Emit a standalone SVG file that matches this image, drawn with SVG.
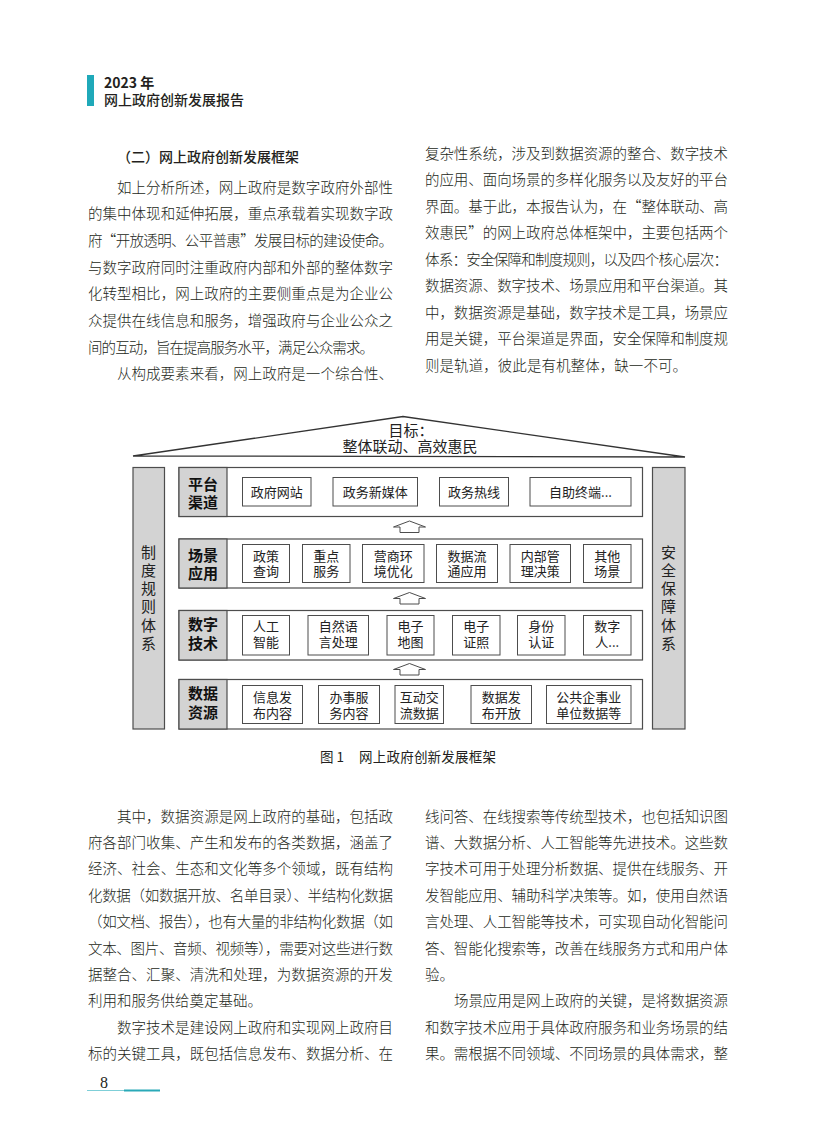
<svg xmlns="http://www.w3.org/2000/svg" width="816" height="1145" viewBox="0 0 816 1145">
<style>
.body{font-family:"Noto Sans CJK SC","Noto Sans CJK JP",sans-serif;font-size:14.5px;fill:#231f20;font-weight:300}
.hd{font-family:"Noto Sans CJK SC",sans-serif;fill:#231f20}
.frame{fill:#fff;stroke:#4d4d4d;stroke-width:1.2}
.cell{fill:#d3d3d3;stroke:#4d4d4d;stroke-width:1.2}
.box{fill:#fff;stroke:#4d4d4d;stroke-width:1}
.bt{font-family:"Noto Sans CJK SC",sans-serif;font-size:13px;fill:#222;text-anchor:middle}
.lt{font-family:"Noto Sans CJK SC",sans-serif;font-size:15px;font-weight:bold;fill:#111;text-anchor:middle}
.pt{font-family:"Noto Sans CJK SC",sans-serif;font-size:15px;fill:#222;text-anchor:middle}
.arrow{fill:#fff;stroke:#4d4d4d;stroke-width:1}
</style>
<rect width="816" height="1145" fill="#fff"/>

<g id="header">
<rect x="87" y="75" width="7" height="31" fill="#1fa9b9"/>
<text class="hd" x="104" y="88" font-size="14" font-weight="bold" font-family="Liberation Sans, Noto Sans CJK SC, sans-serif">2023 年</text>
<text class="hd" x="104" y="105" font-size="14" font-weight="500">网上政府创新发展报告</text>
</g>

<g id="text-top-left">
<text class="hd" x="117" y="162.2" font-size="14" font-weight="500">（二）网上政府创新发展框架</text>
<text class="body" x="117" y="192.5" textLength="276" lengthAdjust="spacing">如上分析所述，网上政府是数字政府外部性</text>
<text class="body" x="88" y="219.2" textLength="305" lengthAdjust="spacing">的集中体现和延伸拓展，重点承载着实现数字政</text>
<text class="body" x="88" y="245.8" textLength="305" lengthAdjust="spacing">府“开放透明、公平普惠”发展目标的建设使命。</text>
<text class="body" x="88" y="272.5" textLength="305" lengthAdjust="spacing">与数字政府同时注重政府内部和外部的整体数字</text>
<text class="body" x="88" y="299.1" textLength="305" lengthAdjust="spacing">化转型相比，网上政府的主要侧重点是为企业公</text>
<text class="body" x="88" y="325.8" textLength="305" lengthAdjust="spacing">众提供在线信息和服务，增强政府与企业公众之</text>
<text class="body" x="88" y="352.5" textLength="286" lengthAdjust="spacing">间的互动，旨在提高服务水平，满足公众需求。</text>
<text class="body" x="117" y="379.1" textLength="276" lengthAdjust="spacing">从构成要素来看，网上政府是一个综合性、</text>
</g>

<g id="text-top-right">
<text class="body" x="425" y="158.5" textLength="303" lengthAdjust="spacing">复杂性系统，涉及到数据资源的整合、数字技术</text>
<text class="body" x="425" y="185" textLength="303" lengthAdjust="spacing">的应用、面向场景的多样化服务以及友好的平台</text>
<text class="body" x="425" y="211.5" textLength="303" lengthAdjust="spacing">界面。基于此，本报告认为，在“整体联动、高</text>
<text class="body" x="425" y="238" textLength="303" lengthAdjust="spacing">效惠民”的网上政府总体框架中，主要包括两个</text>
<text class="body" x="425" y="264.5" textLength="303" lengthAdjust="spacing">体系：安全保障和制度规则，以及四个核心层次：</text>
<text class="body" x="425" y="291" textLength="303" lengthAdjust="spacing">数据资源、数字技术、场景应用和平台渠道。其</text>
<text class="body" x="425" y="317.5" textLength="303" lengthAdjust="spacing">中，数据资源是基础，数字技术是工具，场景应</text>
<text class="body" x="425" y="344" textLength="303" lengthAdjust="spacing">用是关键，平台渠道是界面，安全保障和制度规</text>
<text class="body" x="425" y="370.5" textLength="262" lengthAdjust="spacing">则是轨道，彼此是有机整体，缺一不可。</text>
</g>

<g id="roof">
<polygon points="133,456 403,416.5 685,457" fill="#fff" stroke="#333" stroke-width="1.3"/>
<text class="pt"><tspan x="411" y="435.5">目标：</tspan><tspan x="410" y="452">整体联动、高效惠民</tspan></text>
</g>

<g id="pillar-left">
<rect class="cell" x="133" y="467.5" width="31.5" height="261.5"/>
<text class="pt"><tspan x="148.5" y="557.5">制</tspan><tspan x="148.5" y="575.8">度</tspan><tspan x="148.5" y="594.1">规</tspan><tspan x="148.5" y="612.4">则</tspan><tspan x="148.5" y="630.7">体</tspan><tspan x="148.5" y="649">系</tspan></text>
</g>

<g id="pillar-right">
<rect class="cell" x="652.5" y="467.5" width="32.5" height="261.5"/>
<text class="pt"><tspan x="668.5" y="557.5">安</tspan><tspan x="668.5" y="575.8">全</tspan><tspan x="668.5" y="594.1">保</tspan><tspan x="668.5" y="612.4">障</tspan><tspan x="668.5" y="630.7">体</tspan><tspan x="668.5" y="649">系</tspan></text>
</g>

<g id="layer-platform">
<rect class="frame" x="179" y="467.5" width="463.5" height="49"/>
<rect class="cell" x="179" y="467.5" width="48" height="49"/>
<text class="lt"><tspan x="203" y="489.5">平台</tspan><tspan x="203" y="507.5">渠道</tspan></text>
<rect class="box" x="242.5" y="477.5" width="68.5" height="28.5"/>
<text class="bt" x="276.8" y="496.7">政府网站</text>
<rect class="box" x="333" y="477.5" width="84.5" height="28.5"/>
<text class="bt" x="375.2" y="496.7">政务新媒体</text>
<rect class="box" x="439.5" y="477.5" width="69" height="28.5"/>
<text class="bt" x="474" y="496.7">政务热线</text>
<rect class="box" x="530" y="477.5" width="101" height="28.5"/>
<text class="bt" x="580.5" y="496.7">自助终端...</text>
</g>

<g id="layer-scenario">
<rect class="frame" x="179" y="539" width="463.5" height="49"/>
<rect class="cell" x="179" y="539" width="48" height="49"/>
<text class="lt"><tspan x="203" y="560.5">场景</tspan><tspan x="203" y="578.5">应用</tspan></text>
<rect class="box" x="242.5" y="544.5" width="47" height="38"/>
<text class="bt"><tspan x="266" y="561">政策</tspan><tspan x="266" y="576">查询</tspan></text>
<rect class="box" x="302.5" y="544.5" width="47.5" height="38"/>
<text class="bt"><tspan x="326.2" y="561">重点</tspan><tspan x="326.2" y="576">服务</tspan></text>
<rect class="box" x="362.5" y="544.5" width="61.5" height="38"/>
<text class="bt"><tspan x="393.2" y="561">营商环</tspan><tspan x="393.2" y="576">境优化</tspan></text>
<rect class="box" x="436.5" y="544.5" width="61" height="38"/>
<text class="bt"><tspan x="467" y="561">数据流</tspan><tspan x="467" y="576">通应用</tspan></text>
<rect class="box" x="510" y="544.5" width="60.5" height="38"/>
<text class="bt"><tspan x="540.2" y="561">内部管</tspan><tspan x="540.2" y="576">理决策</tspan></text>
<rect class="box" x="583.5" y="544.5" width="47.5" height="38"/>
<text class="bt"><tspan x="607.2" y="561">其他</tspan><tspan x="607.2" y="576">场景</tspan></text>
</g>

<g id="layer-tech">
<rect class="frame" x="179" y="610.5" width="463.5" height="49.5"/>
<rect class="cell" x="179" y="610.5" width="48" height="49.5"/>
<text class="lt"><tspan x="203" y="629.5">数字</tspan><tspan x="203" y="648.5">技术</tspan></text>
<rect class="box" x="242.5" y="615.5" width="47" height="39.5"/>
<text class="bt"><tspan x="266" y="631">人工</tspan><tspan x="266" y="646.5">智能</tspan></text>
<rect class="box" x="308" y="615.5" width="60.5" height="39.5"/>
<text class="bt"><tspan x="338.2" y="631">自然语</tspan><tspan x="338.2" y="646.5">言处理</tspan></text>
<rect class="box" x="387" y="615.5" width="47" height="39.5"/>
<text class="bt"><tspan x="410.5" y="631">电子</tspan><tspan x="410.5" y="646.5">地图</tspan></text>
<rect class="box" x="452.5" y="615.5" width="47.5" height="39.5"/>
<text class="bt"><tspan x="476.2" y="631">电子</tspan><tspan x="476.2" y="646.5">证照</tspan></text>
<rect class="box" x="517.5" y="615.5" width="47.5" height="39.5"/>
<text class="bt"><tspan x="541.2" y="631">身份</tspan><tspan x="541.2" y="646.5">认证</tspan></text>
<rect class="box" x="583.5" y="615.5" width="47.5" height="39.5"/>
<text class="bt"><tspan x="607.2" y="631">数字</tspan><tspan x="607.2" y="646.5">人...</tspan></text>
</g>

<g id="layer-data">
<rect class="frame" x="179" y="679.5" width="463.5" height="49.5"/>
<rect class="cell" x="179" y="679.5" width="48" height="49.5"/>
<text class="lt"><tspan x="203" y="698.5">数据</tspan><tspan x="203" y="717.5">资源</tspan></text>
<rect class="box" x="242.5" y="685.5" width="60" height="38"/>
<text class="bt"><tspan x="272.5" y="702">信息发</tspan><tspan x="272.5" y="717.5">布内容</tspan></text>
<rect class="box" x="318.5" y="685.5" width="61" height="38"/>
<text class="bt"><tspan x="349" y="702">办事服</tspan><tspan x="349" y="717.5">务内容</tspan></text>
<rect class="box" x="395" y="685.5" width="48.5" height="38"/>
<text class="bt"><tspan x="419.2" y="702">互动交</tspan><tspan x="419.2" y="717.5">流数据</tspan></text>
<rect class="box" x="471" y="685.5" width="60.5" height="38"/>
<text class="bt"><tspan x="501.2" y="702">数据发</tspan><tspan x="501.2" y="717.5">布开放</tspan></text>
<rect class="box" x="546.5" y="685.5" width="84.5" height="38"/>
<text class="bt"><tspan x="588.7" y="702">公共企事业</tspan><tspan x="588.7" y="717.5">单位数据等</tspan></text>
</g>

<g id="connectors">
<polygon class="arrow" points="409.5,521 425.5,527 419,527 419,532.5 400,532.5 400,527 393.5,527"/>
<polygon class="arrow" points="409.5,592.5 425.5,598.5 419,598.5 419,604 400,604 400,598.5 393.5,598.5"/>
<polygon class="arrow" points="409.5,663.5 425.5,669.5 419,669.5 419,675 400,675 400,669.5 393.5,669.5"/>
</g>

<g id="caption">
<text class="hd" x="320" y="761.5" font-size="13.5">图 1</text>
<text class="hd" x="359" y="761.5" font-size="13.5" textLength="137" lengthAdjust="spacing">网上政府创新发展框架</text>
</g>

<g id="text-bottom-left">
<text class="body" x="117" y="821.5" textLength="276" lengthAdjust="spacing">其中，数据资源是网上政府的基础，包括政</text>
<text class="body" x="88" y="847.9" textLength="305" lengthAdjust="spacing">府各部门收集、产生和发布的各类数据，涵盖了</text>
<text class="body" x="88" y="874.3" textLength="305" lengthAdjust="spacing">经济、社会、生态和文化等多个领域，既有结构</text>
<text class="body" x="88" y="900.7" textLength="305" lengthAdjust="spacing">化数据（如数据开放、名单目录）、半结构化数据</text>
<text class="body" x="88" y="927.1" textLength="305" lengthAdjust="spacing">（如文档、报告），也有大量的非结构化数据（如</text>
<text class="body" x="88" y="953.5" textLength="305" lengthAdjust="spacing">文本、图片、音频、视频等），需要对这些进行数</text>
<text class="body" x="88" y="979.9" textLength="305" lengthAdjust="spacing">据整合、汇聚、清洗和处理，为数据资源的开发</text>
<text class="body" x="88" y="1006.3">利用和服务供给奠定基础。</text>
<text class="body" x="117" y="1032.7" textLength="276" lengthAdjust="spacing">数字技术是建设网上政府和实现网上政府目</text>
<text class="body" x="88" y="1059.1" textLength="305" lengthAdjust="spacing">标的关键工具，既包括信息发布、数据分析、在</text>
</g>

<g id="text-bottom-right">
<text class="body" x="425" y="821.5" textLength="303" lengthAdjust="spacing">线问答、在线搜索等传统型技术，也包括知识图</text>
<text class="body" x="425" y="847.9" textLength="303" lengthAdjust="spacing">谱、大数据分析、人工智能等先进技术。这些数</text>
<text class="body" x="425" y="874.3" textLength="303" lengthAdjust="spacing">字技术可用于处理分析数据、提供在线服务、开</text>
<text class="body" x="425" y="900.7" textLength="303" lengthAdjust="spacing">发智能应用、辅助科学决策等。如，使用自然语</text>
<text class="body" x="425" y="927.1" textLength="303" lengthAdjust="spacing">言处理、人工智能等技术，可实现自动化智能问</text>
<text class="body" x="425" y="953.5" textLength="303" lengthAdjust="spacing">答、智能化搜索等，改善在线服务方式和用户体</text>
<text class="body" x="425" y="979.9">验。</text>
<text class="body" x="454" y="1006.3" textLength="274" lengthAdjust="spacing">场景应用是网上政府的关键，是将数据资源</text>
<text class="body" x="425" y="1032.7" textLength="303" lengthAdjust="spacing">和数字技术应用于具体政府服务和业务场景的结</text>
<text class="body" x="425" y="1059.1" textLength="303" lengthAdjust="spacing">果。需根据不同领域、不同场景的具体需求，整</text>
</g>

<g id="footer">
<text x="104" y="1088" font-family="Liberation Serif, serif" font-size="16" fill="#231f20" text-anchor="middle">8</text>
<line x1="87" y1="1090.5" x2="124" y2="1090.5" stroke="#7fcfd8" stroke-width="1"/>
<line x1="124" y1="1090.5" x2="160" y2="1090.5" stroke="#2aa9b8" stroke-width="1.8"/>
</g>
</svg>
